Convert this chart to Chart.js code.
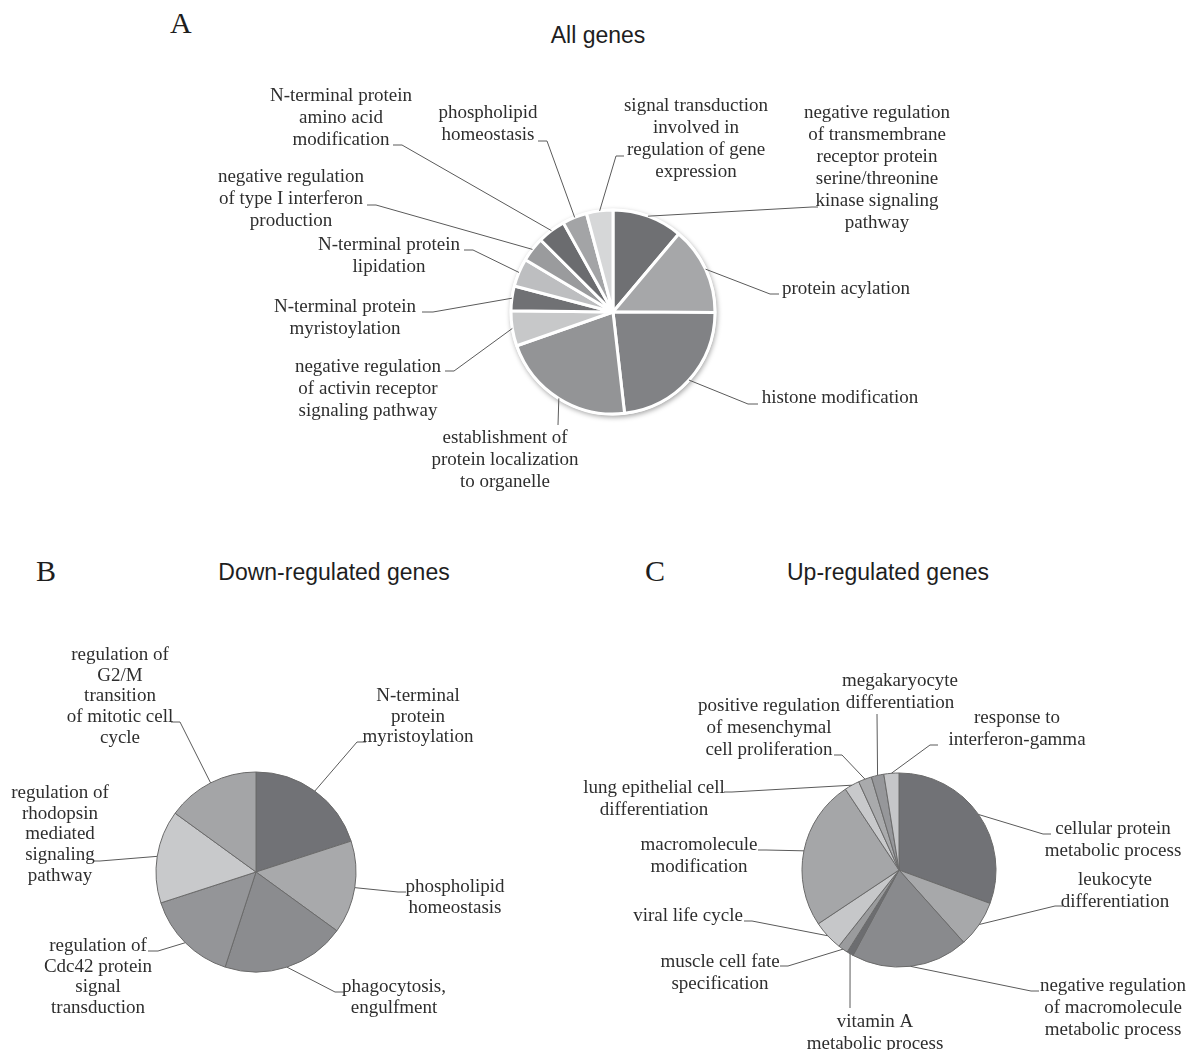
<!DOCTYPE html>
<html>
<head>
<meta charset="utf-8">
<script src="https://cdn.jsdelivr.net/npm/chart.js@4.4.1/dist/chart.umd.min.js"></script>
<style>
html, body { margin: 0; padding: 0; background: #fff; }
body { width: 1186px; height: 1050px; position: relative; overflow: hidden; }
canvas { position: absolute; left: 0; top: 0; }
.ttl { position: absolute; font-family: "Liberation Sans", Arial, sans-serif; font-size: 23px; line-height: 1; color: #1e1e1e; transform: translateX(-50%); white-space: nowrap; }
.pnl { position: absolute; font-family: "Liberation Serif", "Times New Roman", serif; font-size: 30px; line-height: 1; color: #1e1e1e; }
</style>
</head>
<body>
<div class="pnl" style="left:170px;top:8px">A</div>
<div class="ttl" style="left:598px;top:24px">All genes</div>
<div class="pnl" style="left:36px;top:556px">B</div>
<div class="ttl" style="left:334px;top:561px">Down-regulated genes</div>
<div class="pnl" style="left:645px;top:556px">C</div>
<div class="ttl" style="left:888px;top:561px">Up-regulated genes</div>

<canvas id="pieA" width="1186" height="1050"></canvas>
<canvas id="pieB" width="1186" height="1050"></canvas>
<canvas id="pieC" width="1186" height="1050"></canvas>

<script>
// ---- data (slice sizes, in degrees of the circle) ----
const catsA = [
  "negative regulation\nof transmembrane\nreceptor protein\nserine/threonine\nkinase signaling\npathway",
  "protein acylation",
  "histone modification",
  "establishment of\nprotein localization\nto organelle",
  "negative regulation\nof activin receptor\nsignaling pathway",
  "N-terminal protein\nmyristoylation",
  "N-terminal protein\nlipidation",
  "negative regulation\nof type I interferon\nproduction",
  "N-terminal protein\namino acid\nmodification",
  "phospholipid\nhomeostasis",
  "signal transduction\ninvolved in\nregulation of gene\nexpression"
];
const valsA = [40, 50, 83, 77, 20, 14, 16, 14, 16, 14, 15];

const catsB = [
  "N-terminal\nprotein\nmyristoylation",
  "phospholipid\nhomeostasis",
  "phagocytosis,\nengulfment",
  "regulation of\nCdc42 protein\nsignal\ntransduction",
  "regulation of\nrhodopsin\nmediated\nsignaling\npathway",
  "regulation of\nG2/M\ntransition\nof mitotic cell\ncycle"
];
const valsB = [4, 3, 4, 3, 3, 3];

const catsC = [
  "cellular protein\nmetabolic process",
  "leukocyte\ndifferentiation",
  "negative regulation\nof macromolecule\nmetabolic process",
  "vitamin A\nmetabolic process",
  "muscle cell fate\nspecification",
  "viral life cycle",
  "macromolecule\nmodification",
  "lung epithelial cell\ndifferentiation",
  "positive regulation\nof mesenchymal\ncell proliferation",
  "megakaryocyte\ndifferentiation",
  "response to\ninterferon-gamma"
];
const valsC = [110, 28, 70, 4, 6, 18, 90, 9, 8, 7.5, 9];

// ---- styles ----
const greysA = ["#6f7073", "#a6a7a9", "#818285", "#939496", "#c7c8c9", "#707174",
                "#bdbec0", "#9a9b9d", "#6b6c6f", "#a3a4a6", "#d6d7d8"];
const greysB = ["#717276", "#a8a9ab", "#8b8c8f", "#949598", "#c8c9cb", "#a4a5a7"];
const greysC = ["#717276", "#a7a8aa", "#898a8d", "#6c6d70", "#9a9b9d", "#c6c7c9",
                "#a5a6a8", "#c8c9cb", "#a9aaac", "#96979a", "#c5c6c8"];

// label layout: [text centre x, first line y, elbow x, elbow y, tick]
const placeA = [
  [877, 113, 812, 207, 6], [846, 289, 770, 294, 9], [840, 398, 748, 404, 10],
  [505, 438, 558, 425, 0], [368, 367, 454, 371, -9], [345, 307, 433, 312, -11],
  [389, 245, 473, 250, -9], [291, 177, 376, 205, -9], [341, 96, 402, 145, -9],
  [488, 113, 547, 141, -9], [696, 106, 616, 156, 8]
];
const placeB = [
  [418, 696, 357, 742, 9], [455, 887, 398, 892, 8], [394, 987, 335, 992, 9],
  [98, 946, 158, 951, -10], [60, 793, 100, 861, -7], [120, 655, 180, 722, -9]
];
const placeC = [
  [1113, 829, 1043, 834, 8], [1115, 880, 1055, 906, 8], [1113, 986, 1031, 991, 8],
  [875, 1022, 850, 1008, 0], [720, 962, 788, 966, -8], [688, 916, 752, 921, -8],
  [699, 845, 766, 850, -8], [654, 788, 732, 792, -8], [769, 706, 842, 755, -8],
  [900, 681, 877, 714, 0], [1017, 718, 930, 745, 8]
];

const W = 1186, H = 1050;

// soft shadow under the first pie
const shadowPlugin = {
  id: 'pieShadow',
  beforeDatasetsDraw(chart, args, o) {
    if (!o.on) return;
    const a = chart.getDatasetMeta(0).data[0];
    const ctx = chart.ctx;
    ctx.save();
    ctx.shadowColor = 'rgba(0,0,0,0.35)';
    ctx.shadowBlur = 5;
    ctx.shadowOffsetX = 1;
    ctx.shadowOffsetY = 2;
    ctx.fillStyle = '#fff';
    ctx.beginPath();
    ctx.arc(a.x, a.y, a.outerRadius + 1.5, 0, Math.PI * 2);
    ctx.fill();
    ctx.restore();
  }
};

// category labels with leader lines
const leaderPlugin = {
  id: 'leader',
  afterDatasetsDraw(chart, args, o) {
    const ctx = chart.ctx;
    const arcs = chart.getDatasetMeta(0).data;
    const cats = chart.data.labels;
    ctx.save();
    ctx.strokeStyle = '#5a5a5a';
    ctx.lineWidth = 1;
    ctx.font = '19px "Liberation Serif", "Times New Roman", serif';
    ctx.fillStyle = '#2e2e2e';
    ctx.textAlign = 'center';
    ctx.textBaseline = 'middle';
    arcs.forEach((a, i) => {
      const [tx, ty, ex, ey, tick] = o.place[i];
      const mid = (a.startAngle + a.endAngle) / 2;
      const sx = a.x + Math.cos(mid) * a.outerRadius;
      const sy = a.y + Math.sin(mid) * a.outerRadius;
      ctx.beginPath();
      ctx.moveTo(sx, sy);
      ctx.lineTo(ex, ey);
      if (tick) ctx.lineTo(ex + tick, ey);
      ctx.stroke();
      cats[i].split('\n').forEach((s, k) => ctx.fillText(s, tx, ty + k * o.lineHeight));
    });
    ctx.restore();
  }
};

function makePie(id, cats, vals, cols, cx, cy, r, border, bw, place, lh, shadow) {
  return new Chart(document.getElementById(id), {
    type: 'pie',
    data: {
      labels: cats,
      datasets: [{
        data: vals,
        backgroundColor: cols,
        borderColor: border,
        borderWidth: bw,
        radius: r
      }]
    },
    options: {
      responsive: false,
      animation: false,
      events: [],
      layout: { padding: { left: cx - r, top: cy - r, right: W - cx - r, bottom: H - cy - r } },
      plugins: {
        legend: { display: false },
        tooltip: { enabled: false },
        title: { display: false },
        leader: { place: place, lineHeight: lh },
        pieShadow: { on: shadow }
      }
    },
    plugins: [shadowPlugin, leaderPlugin]
  });
}

makePie('pieA', catsA, valsA, greysA, 613, 312, 102, '#ffffff', 3, placeA, 22, true);
makePie('pieB', catsB, valsB, greysB, 256, 872, 100, '#6a6a6a', 1, placeB, 20.7, false);
makePie('pieC', catsC, valsC, greysC, 899, 870, 97, '#6a6a6a', 1, placeC, 22, false);
</script>
</body>
</html>
